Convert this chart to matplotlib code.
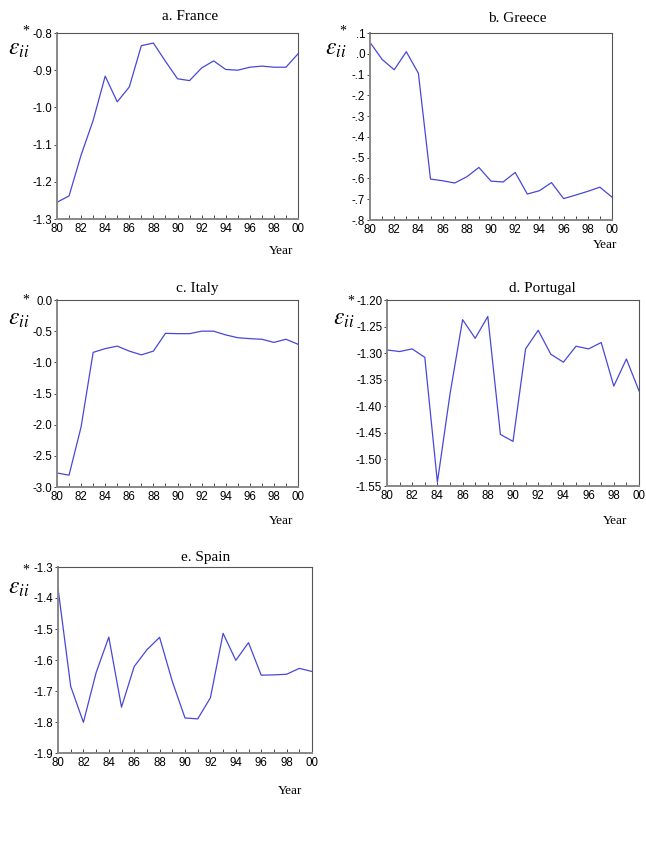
import matplotlib
matplotlib.use("Agg")
import matplotlib.pyplot as plt
import numpy as np

plt.rcParams['mathtext.fontset'] = 'stix'

years = list(range(1980, 2001))
year_labels = ['80', '82', '84', '86', '88', '90', '92', '94', '96', '98', '00']

france = [-1.255, -1.238, -1.128, -1.035, -0.916, -0.985, -0.945, -0.834, -0.827, -0.876,
          -0.923, -0.928, -0.894, -0.875, -0.898, -0.900, -0.892, -0.889, -0.892, -0.892, -0.856]
greece = [0.055, -0.027, -0.077, 0.010, -0.094, -0.603, -0.611, -0.622, -0.592, -0.547,
          -0.613, -0.617, -0.571, -0.675, -0.659, -0.620, -0.697, -0.680, -0.662, -0.642, -0.690]
italy = [-2.775, -2.81, -2.035, -0.84, -0.78, -0.74, -0.82, -0.88, -0.82, -0.535,
         -0.54, -0.54, -0.50, -0.50, -0.56, -0.605, -0.62, -0.63, -0.68, -0.63, -0.71]
portugal = [-1.294, -1.297, -1.292, -1.308, -1.543, -1.377, -1.237, -1.272, -1.231, -1.453,
            -1.466, -1.292, -1.257, -1.302, -1.317, -1.287, -1.292, -1.280, -1.362, -1.311, -1.371]
spain = [-1.368, -1.685, -1.801, -1.641, -1.526, -1.752, -1.621, -1.567, -1.527, -1.669,
         -1.787, -1.790, -1.722, -1.514, -1.601, -1.544, -1.649, -1.648, -1.646, -1.627, -1.637]

titles = ['a. France', 'b. Greece', 'c. Italy', 'd. Portugal', 'e. Spain']

france_yt = [-1.3, -1.2, -1.1, -1.0, -0.9, -0.8]
france_yl = ['-1.3', '-1.2', '-1.1', '-1.0', '-0.9', '-0.8']
greece_yt = [-0.8, -0.7, -0.6, -0.5, -0.4, -0.3, -0.2, -0.1, 0.0, 0.1]
greece_yl = ['-.8', '-.7', '-.6', '-.5', '-.4', '-.3', '-.2', '-.1', '.0', '.1']
italy_yt = [-3.0, -2.5, -2.0, -1.5, -1.0, -0.5, 0.0]
italy_yl = ['-3.0', '-2.5', '-2.0', '-1.5', '-1.0', '-0.5', '0.0']
portugal_yt = [-1.55, -1.50, -1.45, -1.40, -1.35, -1.30, -1.25, -1.20]
portugal_yl = ['-1.55', '-1.50', '-1.45', '-1.40', '-1.35', '-1.30', '-1.25', '-1.20']
spain_yt = [-1.9, -1.8, -1.7, -1.6, -1.5, -1.4, -1.3]
spain_yl = ['-1.9', '-1.8', '-1.7', '-1.6', '-1.5', '-1.4', '-1.3']

W, H = 646, 842
fig = plt.figure(figsize=(W / 100, H / 100), dpi=100)
fig.patch.set_facecolor('white')

# box (left, right, top, bottom) px, title pos, year pos, epsilon pos, star pos
panels = [
    (france, france_yt, france_yl, (57, 298, 33, 219), (190, 17), (281, 251), (8, 48), (26, 31)),
    (greece, greece_yt, greece_yl, (370, 612, 33, 220), (517, 19), (605, 245), (325, 48), (343, 31)),
    (italy, italy_yt, italy_yl, (57, 298, 300, 487), (197, 289), (281, 521), (8, 318), (26, 300)),
    (portugal, portugal_yt, portugal_yl, (387, 639, 300, 486), (542, 289), (615, 521), (333, 318), (351, 301)),
    (spain, spain_yt, spain_yl, (58, 312, 567, 753), (206, 557), (290, 791), (8, 587), (26, 570)),
]

serif = ['Liberation Serif', 'DejaVu Serif']
sans = ['Liberation Sans', 'DejaVu Sans']

for (vals, yt, yl, box, tpos, ypos, epos, spos), title in zip(panels, titles):
    l, r, t, b = box
    ax = fig.add_axes([l / W, 1 - b / H, (r - l) / W, (b - t) / H])
    ax.plot(years, vals, color='#4848d8', lw=0.9)
    ax.set_xlim(1980, 2000)
    ax.set_ylim(yt[0], yt[-1])
    ax.set_xticks(years[::2])
    ax.set_xticklabels(year_labels, fontfamily=sans, fontsize=8.3)
    ax.set_xticks(years, minor=True)
    ax.set_yticks(yt)
    ax.set_yticklabels(yl, fontfamily=sans, fontsize=8.3)
    ax.tick_params(axis='x', which='both', direction='in', length=3, width=0.7,
                   color='#444444', pad=3)
    ax.tick_params(axis='y', direction='out', length=2.5, width=0.7,
                   color='#444444', pad=1)
    for s in ['top', 'right']:
        ax.spines[s].set_color('#555555')
        ax.spines[s].set_linewidth(0.8)
    for s in ['left', 'bottom']:
        ax.spines[s].set_color('#888888')
        ax.spines[s].set_linewidth(1.4)
    fig.text(tpos[0] / W, 1 - tpos[1] / H, title, ha='center', va='center',
             fontfamily=serif, fontsize=11)
    fig.text(ypos[0] / W, 1 - ypos[1] / H, 'Year', ha='center', va='center',
             fontfamily=serif, fontsize=9.5)
    fig.text(epos[0] / W, 1 - epos[1] / H, r'$\varepsilon_{ii}$', ha='left',
             va='center', fontsize=17)
    fig.text(spos[0] / W, 1 - spos[1] / H, '*', ha='center', va='center',
             fontfamily=serif, fontsize=10)

fig.savefig('out.png', dpi=100)
